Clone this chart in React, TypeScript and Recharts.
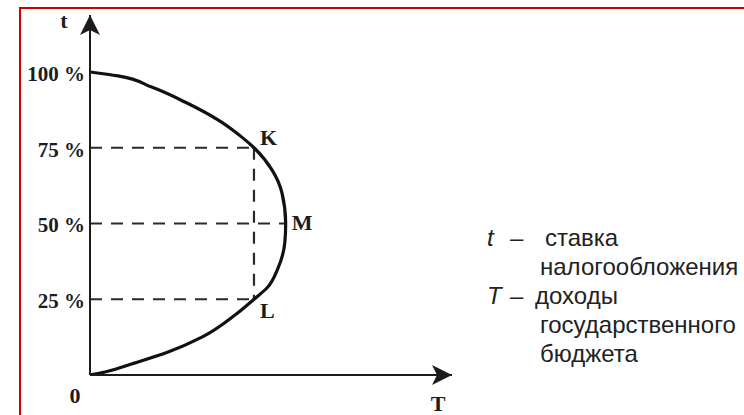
import React from 'react';
import { LineChart, Line, XAxis, YAxis, ReferenceLine, ReferenceDot } from 'recharts';

// Laffer curve: T (budget revenue) vs t (tax rate, %)
const revenueT = [0, 14.3, 31.5, 48.5, 65.4, 77.6, 83.8, 93.0, 98.1, 100, 99.6, 96.1, 90.4, 83.8, 74.1, 57.2, 39.9, 23.0, 7.7, 0];
const rateT = [100, 98.7, 95.0, 90.1, 84.2, 78.5, 75, 67.7, 60.1, 50, 43.9, 35.3, 28.7, 25, 19.8, 12.5, 7.6, 4.0, 1.0, 0];
const rateTicks = [25, 50, 75, 100];
const pointNames = ['K', 'M', 'L'];
const pointRates = [75, 50, 25];
const pointRevenues = [83.8, 100, 83.8];
const axisMaxT = 185;
const axisMaxRate = 118.8;
const legendSymbols = ['t', 'T'];
const legendTerms = [['ставка', 'налогообложения'], ['доходы', 'государственного', 'бюджета']];

const curve = revenueT.map((T, i) => ({ T, t: rateT[i] }));

const SERIF = "'Liberation Serif', 'Times New Roman', serif";
const SANS = "'Liberation Sans', Arial, sans-serif";
const INK = '#1c1c1c';

const RateTick = (props: any) => {
  const { x, y, payload } = props;
  return (
    <text x={x} y={y + 9} textAnchor="end" fontFamily={SERIF} fontWeight="bold" fontSize={21} fill={INK}>
      {`${payload.value} %`}
    </text>
  );
};

const textLabel = (value: string, dx: number, dy: number, size: number, anchor: string = 'start') => (p: any) => (
  <text x={p.cx + dx} y={p.cy + dy} textAnchor={anchor} fontFamily={SERIF} fontWeight="bold" fontSize={size} fill={INK}>
    {value}
  </text>
);

const labelOffsets = [
  [6, -3],
  [6, 7],
  [6, 19],
];

export default function App() {
  let line = 0;
  const legend: React.ReactNode[] = [];
  legendSymbols.forEach((sym, si) => {
    legendTerms[si].forEach((term, ti) => {
      const y = 246 + line * 29;
      if (ti === 0) {
        legend.push(
          <text key={`s${si}`} x={487} y={y} fontFamily={SANS} fontStyle="italic" fontSize={24} fill="#222">{sym}</text>,
          <text key={`d${si}`} x={510} y={y} fontFamily={SANS} fontSize={24} fill="#222">–</text>,
        );
      }
      legend.push(
        <text key={`t${si}-${ti}`} x={ti === 0 ? (si === 0 ? 545 : 535) : 540} y={y} fontFamily={SANS} fontSize={24} fill="#222">
          {term}
        </text>,
      );
      line += 1;
    });
  });

  return (
    <div style={{ position: 'absolute', left: 0, top: 0, width: 744, height: 415, overflow: 'hidden', background: '#fff' }}>
      <div
        style={{
          position: 'absolute',
          left: 19,
          top: 7,
          width: 800,
          height: 500,
          borderTop: '2px solid #d10000',
          borderLeft: '2px solid #d10000',
        }}
      />
      <div style={{ position: 'absolute', left: 0, top: 0 }}>
        <LineChart width={744} height={415} data={curve} margin={{ top: 15, right: 292, bottom: 10, left: 20 }}>
          <XAxis
            type="number"
            dataKey="T"
            domain={[0, axisMaxT]}
            tick={false}
            tickLine={false}
            height={30}
            axisLine={{ stroke: INK, strokeWidth: 2 }}
            allowDataOverflow
          />
          <YAxis
            type="number"
            domain={[0, axisMaxRate]}
            ticks={rateTicks}
            interval={0}
            width={70}
            tickLine={false}
            tickSize={0}
            tickMargin={5}
            tick={<RateTick />}
            axisLine={{ stroke: INK, strokeWidth: 2 }}
            allowDataOverflow
          />
          {pointNames.map((n, i) => (
            <ReferenceLine
              key={`h${n}`}
              segment={[{ x: 0, y: pointRates[i] }, { x: pointRevenues[i], y: pointRates[i] }]}
              stroke="#2a2a2a"
              strokeWidth={2.2}
              strokeDasharray="12 9"
            />
          ))}
          <ReferenceLine
            segment={[{ x: pointRevenues[0], y: pointRates[0] }, { x: pointRevenues[2], y: pointRates[2] }]}
            stroke="#2a2a2a"
            strokeWidth={2.2}
            strokeDasharray="12 9"
          />
          <Line dataKey="t" type="monotoneY" stroke="#111" strokeWidth={3.2} dot={false} isAnimationActive={false} />
          {pointNames.map((n, i) => (
            <ReferenceDot
              key={`l${n}`}
              x={pointRevenues[i]}
              y={pointRates[i]}
              r={0}
              shape={textLabel(n, labelOffsets[i][0], labelOffsets[i][1], 22)}
            />
          ))}
          <ReferenceDot x={0} y={0} r={0} shape={textLabel('0', -15, 28, 22, 'middle')} />
          <ReferenceDot x={axisMaxT} y={0} r={0} shape={textLabel('T', -14, 36, 22, 'middle')} />
          <ReferenceDot x={0} y={axisMaxRate} r={0} shape={textLabel('t', -26, 13, 22, 'middle')} />
          <ReferenceDot
            x={0}
            y={axisMaxRate}
            r={0}
            shape={(p: any) => (
              <path
                d={`M${p.cx},${p.cy} L${p.cx + 10},${p.cy + 20} L${p.cx},${p.cy + 15} L${p.cx - 10},${p.cy + 20} Z`}
                fill={INK}
              />
            )}
          />
          <ReferenceDot
            x={axisMaxT}
            y={0}
            r={0}
            shape={(p: any) => (
              <path
                d={`M${p.cx},${p.cy} L${p.cx - 20},${p.cy - 10} L${p.cx - 15},${p.cy} L${p.cx - 20},${p.cy + 10} Z`}
                fill={INK}
              />
            )}
          />
        </LineChart>
      </div>
      <svg width={744} height={415} style={{ position: 'absolute', left: 0, top: 0 }}>
        {legend}
      </svg>
    </div>
  );
}
